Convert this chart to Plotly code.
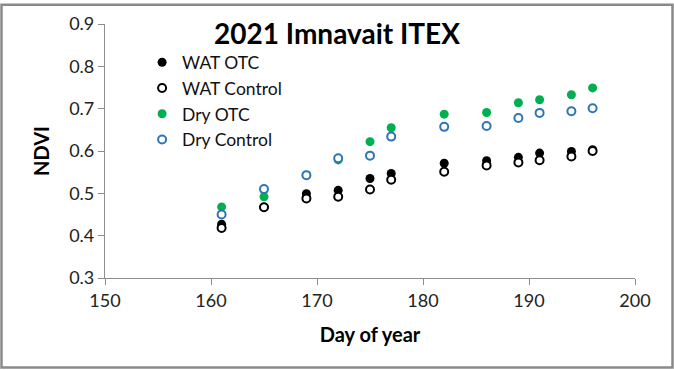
import plotly.graph_objects as go

days = [161, 165, 169, 172, 175, 177, 182, 186, 189, 191, 194, 196]
wat_otc = [0.427, 0.467, 0.499, 0.507, 0.535, 0.547, 0.571, 0.577, 0.585, 0.595, 0.599, 0.603]
wat_control = [0.418, 0.467, 0.488, 0.492, 0.509, 0.532, 0.551, 0.566, 0.573, 0.578, 0.587, 0.600]
dry_otc = [0.468, 0.492, 0.543, 0.579, 0.622, 0.655, 0.687, 0.691, 0.714, 0.721, 0.733, 0.749]
dry_control = [0.450, 0.510, 0.543, 0.583, 0.589, 0.634, 0.657, 0.659, 0.678, 0.690, 0.694, 0.701]

FONT = "Lato"
AXIS_GREY = "#8c8c8c"

fig = go.Figure()
fig.add_trace(go.Scatter(x=days, y=wat_otc, mode="markers", name="WAT OTC",
                         marker=dict(size=9, color="black")))
fig.add_trace(go.Scatter(x=days, y=wat_control, mode="markers", name="WAT Control",
                         marker=dict(size=8, color="white", line=dict(color="black", width=2))))
fig.add_trace(go.Scatter(x=days, y=dry_otc, mode="markers", name="Dry OTC",
                         marker=dict(size=9, color="#00b050")))
fig.add_trace(go.Scatter(x=days, y=dry_control, mode="markers", name="Dry Control",
                         marker=dict(size=8, color="white", line=dict(color="#2e75b6", width=2))))

# outer grey frame around the whole chart
l, r, t, b = 105, 39, 21, 92
pw, ph = 674 - l - r, 370 - t - b
fig.add_shape(type="rect", xref="paper", yref="paper",
              x0=-(l - 1.5) / pw, x1=1 + (r - 1.5) / pw,
              y0=-(b - 1.5) / ph, y1=1 + (t - 1.5) / ph,
              line=dict(color="#8a8a8a", width=2.5))

fig.update_layout(
    width=674, height=370,
    margin=dict(l=l, r=r, t=t, b=b),
    paper_bgcolor="white", plot_bgcolor="white",
    font=dict(family=FONT, size=18, color="#222"),
    title=dict(text="<b>2021 Imnavait ITEX</b>", x=0.5, xanchor="center",
               y=0.907, yanchor="middle", font=dict(size=28, color="black")),
    showlegend=True,
    legend=dict(x=0.07, y=0.92, xanchor="left", yanchor="top",
                bgcolor="rgba(0,0,0,0)", font=dict(size=17.5, color="#111"),
                itemwidth=30),
    xaxis=dict(range=[150, 200], dtick=10, showgrid=False, zeroline=False,
               showline=True, linecolor=AXIS_GREY, linewidth=1.2,
               ticks="outside", ticklen=6, tickcolor=AXIS_GREY,
               title=dict(text="<b>Day of year</b>", font=dict(size=20, color="black"), standoff=18)),
    yaxis=dict(range=[0.3, 0.9], dtick=0.1, tickformat=".1f", showgrid=False, zeroline=False,
               showline=True, linecolor=AXIS_GREY, linewidth=1.2,
               ticks="outside", ticklen=6, tickcolor=AXIS_GREY,
               title=dict(text="<b>NDVI</b>", font=dict(size=20, color="black"), standoff=14)),
)

fig.write_html("out.html", config={"displayModeBar": False},
               post_script="document.body.style.margin='0';")
